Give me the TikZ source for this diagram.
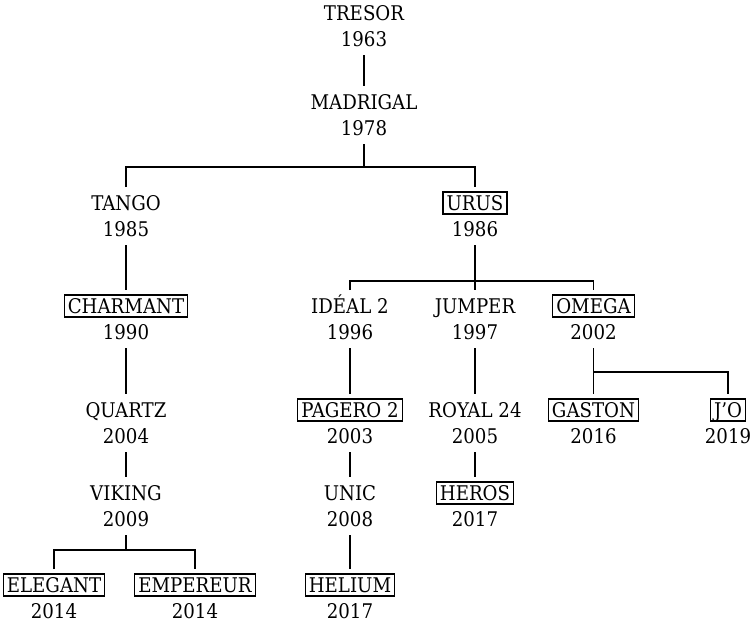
\documentclass[tikz,border=0pt]{standalone}
\usepackage{fontspec}
\IfFontExistsTF{DejaVu Serif Condensed}
  {\setmainfont{DejaVu Serif Condensed}\newcommand{\treefont}{\fontsize{11.5}{13}\selectfont}}
  {\setmainfont{Liberation Serif}\newcommand{\treefont}{\fontsize{12}{14}\selectfont}}
\usetikzlibrary{positioning}

\begin{document}
\begin{tikzpicture}[font=\treefont, line width=0.7pt, node distance=-3.5pt,
    model/.style={inner xsep=2pt, inner ysep=1.8pt, text height=8.5pt, text depth=0.3pt, outer sep=2.8pt},
    modelbox/.style={model, draw},
    year/.style={inner sep=0pt, text height=8.5pt, text depth=0pt, outer sep=5pt}]
    \useasboundingbox (0,0) rectangle (15.02,12.5);

    % Trunk
    \node[model] (tresor) at (7.28,12.24) {TRESOR};
    \node[year, below=of tresor] (tresor-y) {1963};
    \node[model] (madrigal) at (7.28,10.46) {MADRIGAL};
    \node[year, below=of madrigal] (madrigal-y) {1978};

    % Left branch
    \node[model] (tango) at (2.52,8.44) {TANGO};
    \node[year, below=of tango] (tango-y) {1985};
    \node[modelbox] (charmant) at (2.52,6.38) {CHARMANT};
    \node[year, below=of charmant] (charmant-y) {1990};
    \node[model] (quartz) at (2.52,4.30) {QUARTZ};
    \node[year, below=of quartz] (quartz-y) {2004};
    \node[model] (viking) at (2.52,2.64) {VIKING};
    \node[year, below=of viking] (viking-y) {2009};
    \node[modelbox] (elegant) at (1.08,0.80) {ELEGANT};
    \node[year, below=of elegant] (elegant-y) {2014};
    \node[modelbox] (empereur) at (3.90,0.80) {EMPEREUR};
    \node[year, below=of empereur] (empereur-y) {2014};

    % Right branch
    \node[modelbox] (urus) at (9.50,8.44) {URUS};
    \node[year, below=of urus] (urus-y) {1986};
    \node[model] (ideal) at (7.00,6.38) {IDÉAL 2};
    \node[year, below=of ideal] (ideal-y) {1996};
    \node[modelbox] (pagero) at (7.00,4.30) {PAGERO 2};
    \node[year, below=of pagero] (pagero-y) {2003};
    \node[model] (unic) at (7.00,2.64) {UNIC};
    \node[year, below=of unic] (unic-y) {2008};
    \node[modelbox] (helium) at (7.00,0.80) {HELIUM};
    \node[year, below=of helium] (helium-y) {2017};
    \node[model] (jumper) at (9.50,6.38) {JUMPER};
    \node[year, below=of jumper] (jumper-y) {1997};
    \node[model] (royal) at (9.50,4.30) {ROYAL 24};
    \node[year, below=of royal] (royal-y) {2005};
    \node[modelbox] (heros) at (9.50,2.64) {HEROS};
    \node[year, below=of heros] (heros-y) {2017};
    \node[modelbox] (omega) at (11.87,6.38) {OMEGA};
    \node[year, below=of omega] (omega-y) {2002};
    \node[modelbox] (gaston) at (11.87,4.30) {GASTON};
    \node[year, below=of gaston] (gaston-y) {2016};
    \node[modelbox] (jo) at (14.56,4.30) {J'O};
    \node[year, below=of jo] (jo-y) {2019};

    % Forks
    \coordinate (fork-madrigal) at (7.28,9.16);
    \coordinate (fork-urus) at (9.50,6.88);
    \coordinate (fork-omega) at (11.87,5.06);
    \coordinate (fork-viking) at (2.52,1.50);

    % Links
    \draw (tresor-y) -- (madrigal);
    \draw (madrigal-y) -- (fork-madrigal);
    \draw (tango.north) |- (fork-madrigal) -| (urus.north);
    \draw (tango-y) -- (charmant);
    \draw (charmant-y) -- (quartz);
    \draw (quartz-y) -- (viking);
    \draw (viking-y) -- (fork-viking);
    \draw (elegant.north) |- (fork-viking) -| (empereur.north);
    \draw (urus-y) -- (fork-urus);
    \draw (ideal.north) |- (fork-urus) -| (omega.north);
    \draw (fork-urus) -- (jumper);
    \draw (ideal-y) -- (pagero);
    \draw (pagero-y) -- (unic);
    \draw (unic-y) -- (helium);
    \draw (jumper-y) -- (royal);
    \draw (royal-y) -- (heros);
    \draw (omega-y) -- (gaston);
    \draw (fork-omega) -| (jo.north);
\end{tikzpicture}
\end{document}
